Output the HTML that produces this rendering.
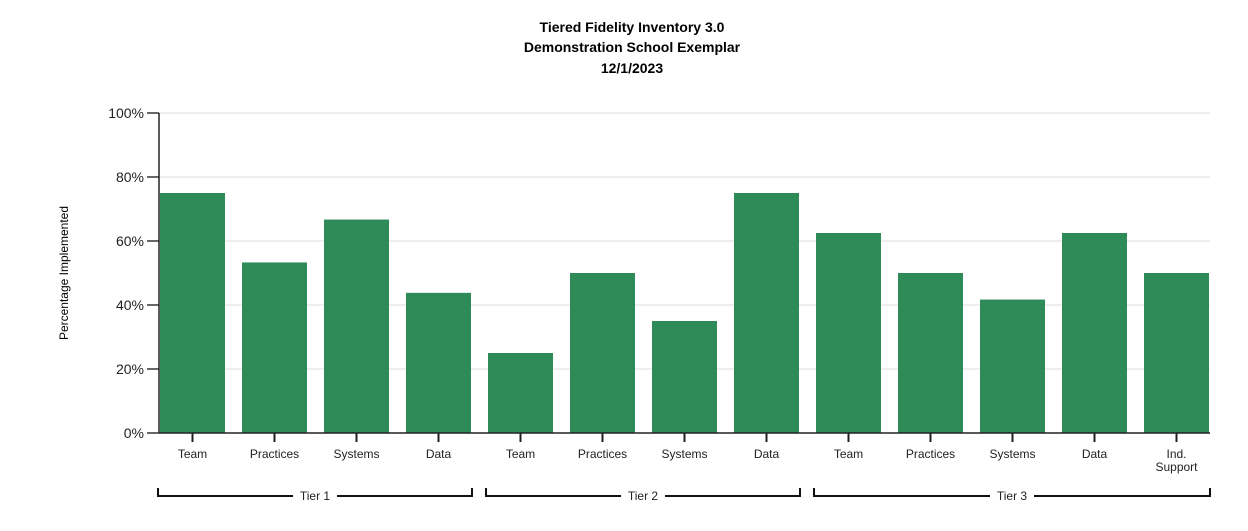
<!DOCTYPE html>
<html><head><meta charset="utf-8"><style>
body{margin:0;background:#fff;font-family:"Liberation Sans",Arial,sans-serif}
</style></head><body>
<svg width="1248" height="526" font-family="Liberation Sans, Arial, sans-serif">
<g font-weight="bold" font-size="14" text-anchor="middle" fill="#000">
<text x="632" y="32">Tiered Fidelity Inventory 3.0</text>
<text x="632" y="52">Demonstration School Exemplar</text>
<text x="632" y="73">12/1/2023</text>
</g>
<text transform="translate(68,273) rotate(-90)" text-anchor="middle" font-size="12" fill="#000">Percentage Implemented</text>
<g id="grid"></g><g id="bars"></g><g id="axes"></g><g id="groups"></g>
</svg>
<script>
const categories=["Team","Practices","Systems","Data","Team","Practices","Systems","Data","Team","Practices","Systems","Data","Ind.|Support"];
const values=[75,53.3,66.7,43.8,25,50,35,75,62.5,50,41.7,62.5,50];
const yTicks=[0,20,40,60,80,100];
const tierNames=["Tier 1","Tier 2","Tier 3"];
const tierStart=[0,4,8];
const tierEnd=[3,7,12];
const NS="http://www.w3.org/2000/svg";
const y0=433,yTop=113,xL=159,xR=1210,band=82,bw=65,bx0=160;
const y=v=>y0-(v/100)*(y0-yTop);
const xc=i=>bx0+i*band+bw/2;
function mk(t,a,p){const e=document.createElementNS(NS,t);for(const k in a)e.setAttribute(k,a[k]);p.appendChild(e);return e;}
const grid=document.getElementById('grid'),bars=document.getElementById('bars'),axes=document.getElementById('axes'),groups=document.getElementById('groups');
yTicks.forEach(t=>{
 if(t>0){const g=mk('line',{x1:xL,x2:xR,y1:y(t),y2:y(t),stroke:'#ddd'},grid);
 
 }
 const tk=mk('line',{x1:xL-12,x2:xL,y1:y(t),y2:y(t),stroke:'#333','stroke-width':1.5},axes);
 
 
 const l=mk('text',{x:xL-15,y:y(t)+5,'text-anchor':'end','font-size':14,fill:'#222'},axes);
 l.textContent=t+'%';
 
 
});
values.forEach((v,i)=>{
 const r=mk('rect',{x:bx0+i*band,y:y(v),width:bw,height:y0-y(v),fill:'#2e8b57'},bars);
 
 
 const tk=mk('line',{x1:xc(i),x2:xc(i),y1:y0,y2:y0+9,stroke:'#222','stroke-width':2},axes);
 
 
 categories[i].split('|').forEach((s,j)=>{
  const l=mk('text',{x:xc(i),y:y0+25+j*13,'text-anchor':'middle','font-size':12,fill:'#222'},axes);
  l.textContent=s;
  
  
 });
});
const ax=mk('line',{x1:xL,x2:xL,y1:yTop,y2:y0,stroke:'#222','stroke-width':1.5},axes);


const bx=mk('line',{x1:xL,x2:xR,y1:y0,y2:y0,stroke:'#222','stroke-width':1.5},axes);


tierNames.forEach((n,k)=>{
 const a=bx0+tierStart[k]*band-2,b=bx0+tierEnd[k]*band+bw+1,m=(a+b)/2,yy=496;
 const g=mk('g',{},groups);
 
 
 mk('path',{d:`M${a} ${yy-8}V${yy}H${m-22}M${m+22} ${yy}H${b}V${yy-8}`,fill:'none',stroke:'#111','stroke-width':2},g);
 const t=mk('text',{x:m,y:yy+4,'text-anchor':'middle','font-size':12,fill:'#222'},g);
 t.textContent=n;
});
</script>
</body></html>
